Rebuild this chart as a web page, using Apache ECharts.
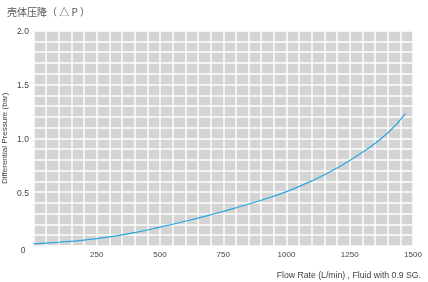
<!DOCTYPE html>
<html>
<head>
<meta charset="utf-8">
<script src="https://cdn.jsdelivr.net/npm/echarts@6/dist/echarts.min.js"></script>
<style>html,body{margin:0;padding:0;background:#fff}#c{width:428px;height:282px}</style>
</head>
<body>
<div id="c"></div>
<script>
var flowRate = [0, 100, 200, 300, 400, 500, 600, 700, 800, 900, 1000, 1100, 1200, 1300, 1400, 1470];
var pressureDrop = [0.02, 0.035, 0.055, 0.085, 0.125, 0.175, 0.23, 0.29, 0.355, 0.425, 0.505, 0.605, 0.725, 0.87, 1.05, 1.23];
var xTickLabels = [250, 500, 750, 1000, 1250, 1500];
var yTickLabels = ['0', '0.5', '1.0', '1.5', '2.0'];
var titleText = '壳体压降（ △ P ）';
var xAxisName = 'Flow Rate (L/min) , Fluid with 0.9 SG.';
var yAxisName = 'Differential Pressure (bar)';

var FONT = '"Liberation Sans", Arial, sans-serif';
var chart = echarts.init(document.getElementById('c'), null, {renderer: 'canvas'});
chart.setOption({
  animation: false,
  title: [
    {text: titleText, left: 2, top: 2, textStyle: {fontSize: 10, fontWeight: 'normal', color: '#555', fontFamily: '"Noto Sans CJK SC", sans-serif'}},
    {text: xAxisName, right: 2, top: 266, textStyle: {fontSize: 8.7, fontWeight: 'normal', color: '#444', fontFamily: FONT}}
  ],
  grid: {left: 33.5, right: 15, top: 30.7, bottom: 36, show: true, backgroundColor: '#d4d4d4', borderWidth: 0, containLabel: false, outerBoundsMode: 'none'},
  xAxis: {
    type: 'value', min: 0, max: 1500, interval: 50,
    axisLine: {show: false}, axisTick: {show: false},
    splitLine: {show: true, lineStyle: {color: '#ffffff', width: 1.5}},
    axisLabel: {
      fontSize: 8, color: '#444', fontFamily: FONT, margin: 5, showMinLabel: true, showMaxLabel: true,
      formatter: function (v) { var r = Math.round(v); return xTickLabels.indexOf(r) >= 0 ? String(r) : ''; }
    }
  },
  yAxis: {
    type: 'value', min: 0, max: 2, interval: 0.1,
    name: yAxisName, nameLocation: 'middle', nameGap: 24.5, nameMoveOverlap: false,
    nameTextStyle: {fontSize: 8, color: '#444', fontFamily: FONT},
    axisLine: {show: false}, axisTick: {show: false},
    splitLine: {show: true, lineStyle: {color: '#ffffff', width: 1.5}},
    axisLabel: {
      fontSize: 8.5, color: '#444', fontFamily: FONT, margin: 10.5, align: 'center', verticalAlign: 'middle',
      padding: [2, 0, 0, 0],
      rich: {z: {fontSize: 8.5, color: '#444', fontFamily: FONT, padding: [7, 0, 0, 0]}},
      formatter: function (v) {
        var t = Math.round(v * 10);
        if (t % 5 !== 0) return '';
        var s = t === 0 ? '0' : (t / 10).toFixed(1);
        if (yTickLabels.indexOf(s) < 0) return '';
        return t === 0 ? '{z|' + s + '}' : s;
      }
    }
  },
  series: [{
    type: 'line', smooth: true, symbol: 'none',
    data: flowRate.map(function (x, i) { return [x, pressureDrop[i]]; }),
    lineStyle: {color: '#2aa7e1', width: 1.2}
  }]
});
</script>
</body>
</html>
